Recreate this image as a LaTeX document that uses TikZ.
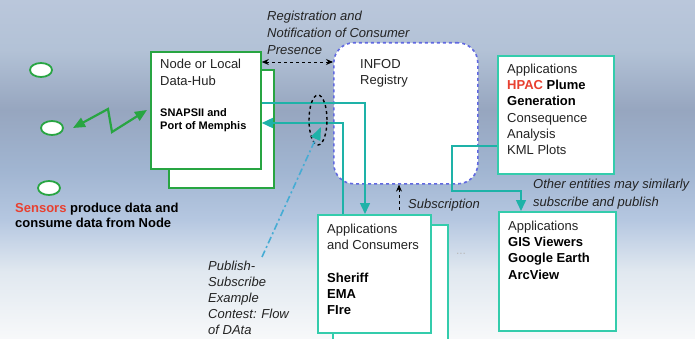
\documentclass[tikz,border=0pt]{standalone}
\usepackage{fontspec}
\setmainfont{Liberation Sans}
\usetikzlibrary{arrows.meta,calc,shapes.geometric}

\definecolor{hubgreen}{RGB}{40,165,66}
\definecolor{appteal}{RGB}{52,204,172}
\definecolor{linkteal}{RGB}{30,178,168}
\definecolor{regblue}{RGB}{96,104,224}
\definecolor{hotred}{RGB}{232,64,48}
\definecolor{flowblue}{RGB}{70,172,212}
\definecolor{ink}{RGB}{35,35,35}

% sky backdrop: 25bp = bottom edge, 75bp = top edge
\pgfdeclareverticalshading{sky}{100bp}{%
  rgb(0bp)=(0.97,0.975,0.98);
  rgb(25bp)=(0.97,0.975,0.98);
  rgb(35bp)=(0.88,0.91,0.94);
  rgb(42.6bp)=(0.71,0.78,0.88);
  rgb(50bp)=(0.63,0.71,0.82);
  rgb(58.8bp)=(0.59,0.65,0.75);
  rgb(67.6bp)=(0.70,0.76,0.84);
  rgb(75bp)=(0.73,0.78,0.86);
  rgb(100bp)=(0.73,0.78,0.86)}

\tikzset{
  lbl/.style={inner sep=0pt, anchor=north west, align=left, text=ink,
              font=\fontsize{13}{16.3}\selectfont},
  hubbox/.style={draw=hubgreen, line width=1.8pt, fill=white, inner sep=0pt, anchor=north west},
  appbox/.style={draw=appteal, line width=1.8pt, fill=white, inner sep=0pt, anchor=north west},
  sensor/.style={draw=hubgreen, line width=1.8pt, fill=white, ellipse, inner sep=0pt,
                 minimum width=22pt, minimum height=14pt},
  link/.style={draw=linkteal, line width=1.5pt, -{Triangle[length=11pt,width=10pt]}},
  note/.style={black, dashed, line width=0.9pt},
}

\begin{document}
\begin{tikzpicture}[x=1pt,y=-1pt]
\useasboundingbox (0,0) rectangle (695,339);
\begin{scope}
\clip (0,0) rectangle (695,339);
\shade[shading=sky] (0,0) rectangle (695,339);

% registry (dashed rounded region)
\node[draw=regblue, dashed, line width=1.6pt, fill=white, rounded corners=20pt,
      minimum width=144pt, minimum height=141pt, inner sep=0pt, anchor=north west]
  (reg) at (333,42) {};
\node[lbl] (regtxt) at (360,56.7) {\strut INFOD\\Registry};

% sensors
\node[sensor] (s1) at (41,70) {};
\node[sensor] (s2) at (52,128) {};
\node[sensor] (s3) at (49,188) {};
\node[lbl, font=\fontsize{13}{15}\selectfont\bfseries, text=black] (senstxt) at (15,201.7)
  {\strut\textcolor{hotred}{Sensors} produce data and\\consume data from Node};

% node / local data hub (stacked)
\node[hubbox, minimum width=105pt, minimum height=118pt] (hubback) at (168,69) {};
\node[hubbox, minimum width=110pt, minimum height=117pt] (hub) at (150,51) {};
\node[lbl, font=\fontsize{13}{17}\selectfont] (hubtxt) at (160,56.7) {\strut Node or Local\\Data-Hub};
\node[lbl, font=\fontsize{11}{13}\selectfont\bfseries, text=black] (snap) at (160,107)
  {\strut SNAPSII and\\Port of Memphis};

% applications and consumers (stacked)
\node[appbox, minimum width=115pt, minimum height=130pt] (consback) at (332,224) {};
\node[appbox, minimum width=113pt, minimum height=118pt] (cons) at (317,214) {};
\node[lbl] (constxt) at (327,221.7)
  {\strut Applications\\and Consumers\\[16.3pt]\textbf{\color{black}Sheriff}\\\textbf{\color{black}EMA}\\\textbf{\color{black}FIre}};

% HPAC applications
\node[appbox, minimum width=116pt, minimum height=118pt] (hpac) at (497,55) {};
\node[lbl] (hpactxt) at (507,61.7)
  {\strut Applications\\\textbf{\color{hotred}HPAC} \textbf{\color{black}Plume}\\\textbf{\color{black}Generation}\\Consequence\\Analysis\\KML Plots};

% GIS applications
\node[appbox, minimum width=117pt, minimum height=119pt] (gis) at (498,211) {};
\node[lbl] (gistxt) at (508,218.7)
  {\strut Applications\\\textbf{\color{black}GIS Viewers}\\\textbf{\color{black}Google Earth}\\\textbf{\color{black}ArcView}};

\node[text=gray!55, font=\fontsize{12}{12}\selectfont, inner sep=0pt] (dots) at (461,254) {...};

% radio link between a sensor and the hub
\coordinate (z0) at (73,128);
\coordinate (z1) at (108,109);
\coordinate (z2) at (112,132);
\coordinate (z3) at (147,110);
\draw[hubgreen, line width=2.2pt, line join=miter,
      {Triangle[length=12pt,width=10pt]}-{Triangle[length=12pt,width=10pt]}]
  (z0) -- (z1) -- (z2) -- (z3);

% registration / notification
\draw[note, {Stealth[length=7pt,width=6pt]}-{Stealth[length=7pt,width=6pt]}]
  (hub.east |- 0,62) -- (reg.west |- 0,62);
\node[lbl, font=\fontsize{13}{17}\selectfont\itshape] (regnote) at (267,8.2)
  {\strut Registration and\\Notification of Consumer\\Presence};

% subscription
\draw[note, -{Stealth[length=7pt,width=6pt]}] (399,210) -- (reg.south -| 399,0);
\node[lbl, font=\fontsize{13}{16}\selectfont\itshape] (subnote) at (408,197.2) {\strut Subscription};

% publish / subscribe flows
\coordinate (a1) at (365,103);
\draw[link] (hub.east |- a1) -- (a1) -- (cons.north -| a1);
\coordinate (b1) at (343,123);
\draw[link] (cons.north -| b1) -- (b1) -- (hub.east |- b1);
\coordinate (c1) at (452,146);
\coordinate (c2) at (452,191);
\coordinate (c3) at (521,191);
\draw[link] (hpac.west |- c1) -- (c1) -- (c2) -- (c3) -- (gis.north -| c3);

% highlighted flow
\node[draw=black, dashed, line width=1.4pt, ellipse, inner sep=0pt,
      minimum width=18pt, minimum height=50pt] (flowmark) at (318,120) {};
\coordinate (f0) at (262,257);
\coordinate (f1) at (321,127);
\draw[flowblue, line width=1.6pt, dash pattern=on 7pt off 3pt on 2pt off 3pt,
      -{Triangle[length=13pt,width=10pt,fill=linkteal,color=linkteal]}] (f0) -- (f1);
\node[lbl, font=\fontsize{13}{16}\selectfont\itshape] (flownote) at (208,259.2)
  {\strut Publish-\\Subscribe\\Example\\Contest: Flow\\of DAta};

\node[lbl, font=\fontsize{13}{17.5}\selectfont\itshape] (othernote) at (533,176.2)
  {\strut Other entities may similarly\\subscribe and publish};
\end{scope}
\end{tikzpicture}
\end{document}
